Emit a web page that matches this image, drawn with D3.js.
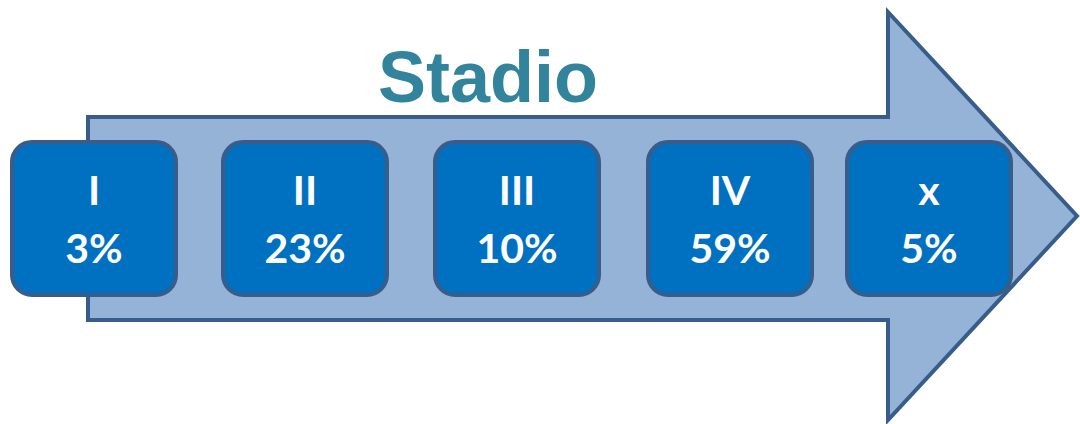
<!DOCTYPE html>
<html>
<head>
<meta charset="utf-8">
<script src="https://cdn.jsdelivr.net/npm/d3@7"></script>
<style>
  html, body { margin: 0; padding: 0; background: #fff; }
  svg { display: block; }
</style>
</head>
<body>
<svg id="chart" width="1080" height="424"></svg>
<script>
// Stage distribution
const stages = ["I", "II", "III", "IV", "x"];
const shares = [3, 23, 10, 59, 5];
const title = "Stadio";

const W = 1080, H = 424;
const svg = d3.select("#chart");

// Big background arrow
const arrow = d3.path();
arrow.moveTo(88, 117);
arrow.lineTo(888, 117);
arrow.lineTo(888, 12);
arrow.lineTo(1077, 216);
arrow.lineTo(888, 420);
arrow.lineTo(888, 320);
arrow.lineTo(88, 320);
arrow.closePath();

svg.append("path")
  .attr("d", arrow.toString())
  .attr("fill", "#95B3D7")
  .attr("stroke", "#385D8A")
  .attr("stroke-width", 4)
  .attr("stroke-linejoin", "miter");

// Title
svg.append("text")
  .attr("x", 488)
  .attr("y", 102)
  .attr("text-anchor", "middle")
  .attr("font-family", "Liberation Sans, Arial, sans-serif")
  .attr("font-weight", "bold")
  .attr("font-size", 72)
  .attr("fill", "#31849B")
  .text(title);

// Box positions along the arrow
const x = d3.scaleOrdinal().domain(stages).range([12, 223, 435, 648, 847]);
const boxW = 164, boxH = 153, boxTop = 142;

const data = stages.map((s, i) => ({ stage: s, share: shares[i] }));

const g = svg.selectAll("g.stage")
  .data(data)
  .join("g")
  .attr("class", "stage")
  .attr("transform", d => `translate(${x(d.stage)},${boxTop})`);

g.append("rect")
  .attr("width", boxW)
  .attr("height", boxH)
  .attr("rx", 20)
  .attr("ry", 20)
  .attr("fill", "#0070C0")
  .attr("stroke", "#385D8A")
  .attr("stroke-width", 4);

g.append("text")
  .attr("x", boxW / 2)
  .attr("y", 63)
  .attr("text-anchor", "middle")
  .attr("font-family", "Lato, sans-serif")
  .attr("font-weight", "bold")
  .attr("font-size", 41)
  .attr("fill", "#fff")
  .text(d => d.stage);

g.append("text")
  .attr("x", boxW / 2)
  .attr("y", 121)
  .attr("text-anchor", "middle")
  .attr("font-family", "Lato, sans-serif")
  .attr("font-weight", "bold")
  .attr("font-size", 41)
  .attr("fill", "#fff")
  .text(d => d3.format("d")(d.share) + "%");
</script>
</body>
</html>
